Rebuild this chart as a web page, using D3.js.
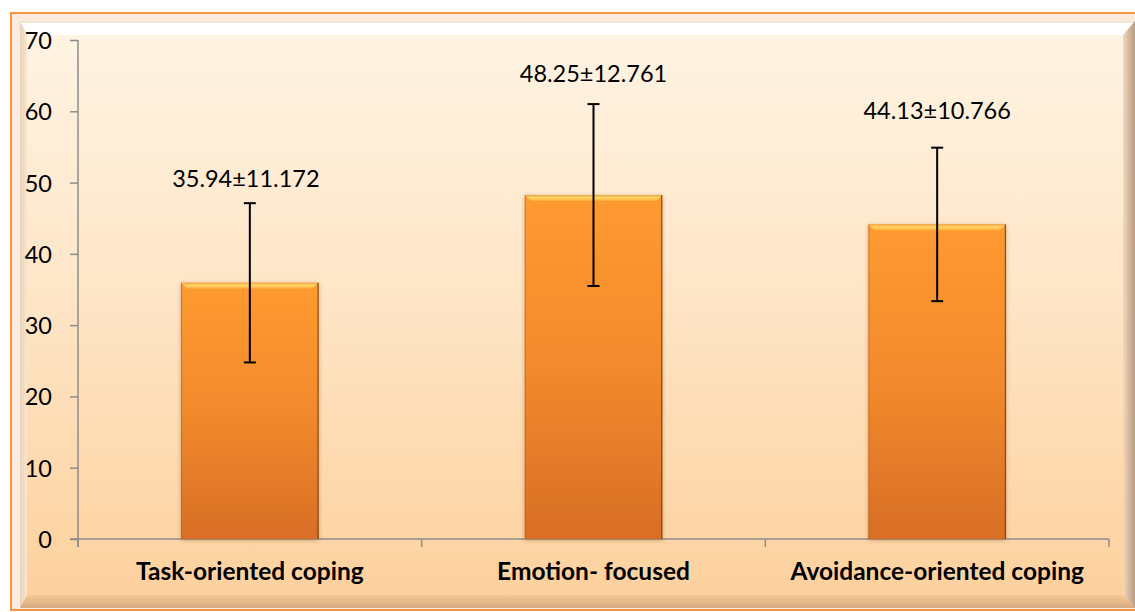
<!DOCTYPE html>
<html>
<head>
<meta charset="utf-8">
<script src="https://cdn.jsdelivr.net/npm/d3@7"></script>
<style>
  html, body { margin: 0; padding: 0; background: #ffffff; }
  svg { display: block; }
  text { font-family: Lato, "Open Sans", "Liberation Sans", sans-serif; }
</style>
</head>
<body>
<svg id="chart" width="1135" height="612"></svg>
<script>
const categories = ["Task-oriented coping", "Emotion- focused", "Avoidance-oriented coping"];
const means = [35.94, 48.25, 44.13];
const sds = [11.172, 12.761, 10.766];
const valueLabels = ["35.94±11.172", "48.25±12.761", "44.13±10.766"];
const yTicks = [0, 10, 20, 30, 40, 50, 60, 70];

const svg = d3.select("#chart");
const defs = svg.append("defs");

const bg = defs.append("linearGradient").attr("id", "bgGrad").attr("x1", 0).attr("y1", 0).attr("x2", 0).attr("y2", 1);
bg.append("stop").attr("offset", "0%").attr("stop-color", "#FFF4E4");
bg.append("stop").attr("offset", "45%").attr("stop-color", "#FEE6C8");
bg.append("stop").attr("offset", "100%").attr("stop-color", "#FDD09C");

const barGrad = defs.append("linearGradient").attr("id", "barGrad").attr("x1", 0).attr("y1", 0).attr("x2", 0).attr("y2", 1);
barGrad.append("stop").attr("offset", "0%").attr("stop-color", "#FF9A30");
barGrad.append("stop").attr("offset", "50%").attr("stop-color", "#F28A2D");
barGrad.append("stop").attr("offset", "100%").attr("stop-color", "#D86E26");

const bevelGrad = defs.append("linearGradient").attr("id", "bevelGrad").attr("x1", 0).attr("y1", 0).attr("x2", 0).attr("y2", 1);
bevelGrad.append("stop").attr("offset", "0%").attr("stop-color", "#F0A040");
bevelGrad.append("stop").attr("offset", "40%").attr("stop-color", "#FFD866");
bevelGrad.append("stop").attr("offset", "100%").attr("stop-color", "#FFA838");

const leftBev = defs.append("linearGradient").attr("id", "leftBev").attr("x1", 0).attr("y1", 0).attr("x2", 1).attr("y2", 0);
leftBev.append("stop").attr("offset", "0%").attr("stop-color", "#E6D3BD");
leftBev.append("stop").attr("offset", "100%").attr("stop-color", "#FBE6CC");

const rightBev = defs.append("linearGradient").attr("id", "rightBev").attr("x1", 0).attr("y1", 0).attr("x2", 1).attr("y2", 0);
rightBev.append("stop").attr("offset", "0%").attr("stop-color", "#F2D8BC");
rightBev.append("stop").attr("offset", "100%").attr("stop-color", "#B89C84");

const botBev = defs.append("linearGradient").attr("id", "botBev").attr("x1", 0).attr("y1", 0).attr("x2", 0).attr("y2", 1);
botBev.append("stop").attr("offset", "0%").attr("stop-color", "#F6C894");
botBev.append("stop").attr("offset", "100%").attr("stop-color", "#D6AA80");

const shadow = defs.append("filter").attr("id", "barShadow").attr("x", "-20%").attr("y", "-20%").attr("width", "140%").attr("height", "140%");
shadow.append("feDropShadow").attr("dx", 0).attr("dy", 1).attr("stdDeviation", 2).attr("flood-color", "#7a4a20").attr("flood-opacity", 0.45);

// frame
const px0 = 20, py0 = 21, px1 = 1135, py1 = 608;
const bt = 14, bb = 13, bl = 7, br = 12;
svg.append("rect").attr("x", 11).attr("y", 13).attr("width", 1140).attr("height", 597)
  .attr("fill", "#FBEBDC").attr("stroke", "#F79646").attr("stroke-width", 2);
svg.append("rect").attr("x", px0).attr("y", py0).attr("width", px1 - px0).attr("height", py1 - py0).attr("fill", "url(#bgGrad)");
svg.append("polygon").attr("points", [[px0, py0], [px1, py0], [px1 - br, py0 + bt], [px0 + bl, py0 + bt]].join(" "))
  .attr("fill", "#FFFFFF");
svg.append("line").attr("x1", px0).attr("x2", px1).attr("y1", py0 + 1).attr("y2", py0 + 1).attr("stroke", "#F3E6D6").attr("stroke-width", 2);
svg.append("polygon").attr("points", [[px0, py0], [px0 + bl, py0 + bt], [px0 + bl, py1 - bb], [px0, py1]].join(" "))
  .attr("fill", "url(#leftBev)");
svg.append("polygon").attr("points", [[px1, py0], [px1, py1], [px1 - br, py1 - bb], [px1 - br, py0 + bt]].join(" "))
  .attr("fill", "url(#rightBev)");
svg.append("polygon").attr("points", [[px0, py1], [px0 + bl, py1 - bb], [px1 - br, py1 - bb], [px1, py1]].join(" "))
  .attr("fill", "url(#botBev)");

// scales
const y = d3.scaleLinear().domain([0, 70]).range([539, 40]);
const x = d3.scaleBand().domain(categories).range([78, 1109]).paddingInner(0.6).paddingOuter(0.3);

const axisColor = "#8C8C8C";
const fam = "Lato, 'Open Sans', sans-serif";

// y axis
const yAxis = svg.append("g").attr("transform", "translate(78,0)")
  .call(d3.axisLeft(y).tickValues(yTicks).tickSize(8).tickPadding(18).tickSizeOuter(0));
yAxis.select(".domain").remove();
yAxis.selectAll(".tick line").attr("stroke", axisColor).attr("stroke-width", 1.5);
yAxis.selectAll(".tick text").attr("font-size", "23.5px").attr("fill", "#000").attr("dy", "0.36em")
  .style("font-family", fam);
svg.append("line").attr("x1", 78).attr("x2", 78).attr("y1", y(70)).attr("y2", y(0) + 8)
  .attr("stroke", axisColor).attr("stroke-width", 1.5);

// x axis baseline and boundary ticks
svg.append("line").attr("x1", 70).attr("x2", 1109).attr("y1", y(0)).attr("y2", y(0))
  .attr("stroke", axisColor).attr("stroke-width", 1.5);
const step = x.step();
const bounds = categories.map(c => x(c) - step * x.paddingInner() / 2)
  .concat([x(categories[categories.length - 1]) + x.bandwidth() + step * x.paddingInner() / 2]);
svg.selectAll(".xb").data(bounds).join("line")
  .attr("x1", d => d).attr("x2", d => d).attr("y1", y(0)).attr("y2", y(0) + 8)
  .attr("stroke", axisColor).attr("stroke-width", 1.5);

// x labels
const xAxis = svg.append("g").attr("transform", `translate(0,${y(0)})`)
  .call(d3.axisBottom(x).tickSize(0).tickPadding(0));
xAxis.select(".domain").remove();
xAxis.selectAll(".tick text").attr("y", 41).attr("dy", 0).attr("font-size", "24.5px")
  .attr("font-weight", "bold").attr("fill", "#000").style("font-family", fam);

// bars
const bars = svg.append("g");
categories.forEach((c, i) => {
  const bx = x(c), bw = x.bandwidth(), by = y(means[i]), bh = y(0) - y(means[i]);
  const g = bars.append("g");
  g.append("rect").attr("x", bx).attr("y", by).attr("width", bw).attr("height", bh)
    .attr("fill", "url(#barGrad)").attr("filter", "url(#barShadow)");
  const b = 6;
  g.append("polygon").attr("points", [[bx, by], [bx + bw, by], [bx + bw - b, by + b], [bx + b, by + b]].join(" "))
    .attr("fill", "url(#bevelGrad)");
  g.append("line").attr("x1", bx + bw - 0.5).attr("x2", bx + bw - 0.5).attr("y1", by).attr("y2", y(0))
    .attr("stroke", "#6B3A10").attr("stroke-width", 1.2).attr("opacity", 0.8);
  g.append("line").attr("x1", bx + 0.5).attr("x2", bx + 0.5).attr("y1", by).attr("y2", y(0))
    .attr("stroke", "#B0621E").attr("stroke-width", 1).attr("opacity", 0.6);
});

// error bars
const cap = 6;
const eb = svg.append("g").attr("stroke", "#000").attr("stroke-width", 2);
categories.forEach((c, i) => {
  const cx = x(c) + x.bandwidth() / 2;
  const hi = y(means[i] + sds[i]), lo = y(means[i] - sds[i]);
  eb.append("line").attr("x1", cx).attr("x2", cx).attr("y1", hi).attr("y2", lo);
  eb.append("line").attr("x1", cx - cap).attr("x2", cx + cap).attr("y1", hi).attr("y2", hi);
  eb.append("line").attr("x1", cx - cap).attr("x2", cx + cap).attr("y1", lo).attr("y2", lo);
});

// value labels
const labelGap = [16, 22, 28.5];
const labelShift = [-4, 0, 0];
svg.append("g").selectAll("text").data(categories).join("text")
  .attr("x", (c, i) => x(c) + x.bandwidth() / 2 + labelShift[i])
  .attr("y", (c, i) => y(means[i] + sds[i]) - labelGap[i])
  .attr("text-anchor", "middle").attr("font-size", "23.5px").attr("fill", "#000")
  .style("font-family", fam)
  .text((c, i) => valueLabels[i]);
</script>
</body>
</html>
